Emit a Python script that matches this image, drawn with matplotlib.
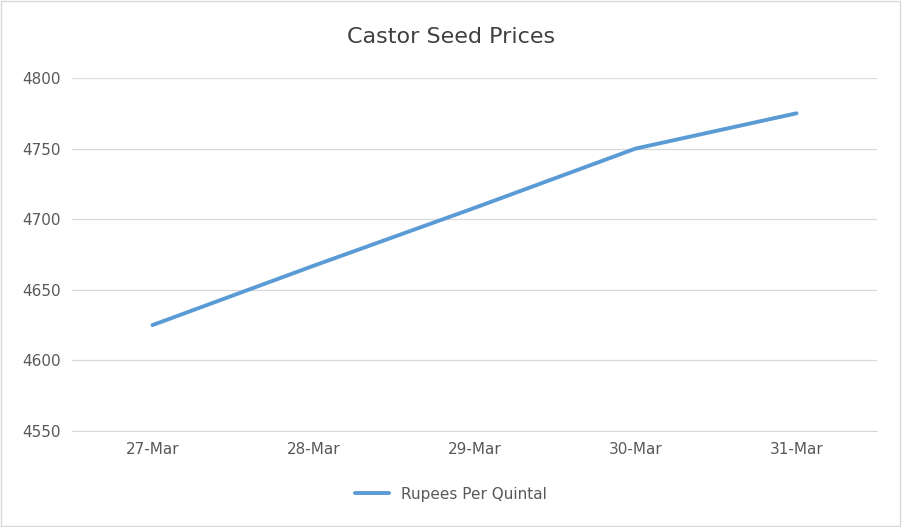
import matplotlib.pyplot as plt

dates = ["27-Mar", "28-Mar", "29-Mar", "30-Mar", "31-Mar"]
prices = [4625, 4667, 4708, 4750, 4775]
y_ticks = [4550, 4600, 4650, 4700, 4750, 4800]

fig = plt.figure(figsize=(9.02, 5.27), dpi=100)
ax = fig.add_axes([72 / 902, 1 - 431 / 527, (877 - 72) / 902, (431 - 78) / 527])

ax.plot(range(len(dates)), prices, color="#5b9bd5", linewidth=2.8,
        solid_capstyle="round", label="Rupees Per Quintal")

ax.set_xlim(-0.5, len(dates) - 0.5)
ax.set_ylim(4550, 4800)
ax.set_xticks(range(len(dates)))
ax.set_xticklabels(dates)
ax.set_yticks(y_ticks)
ax.grid(axis="y", color="#d9d9d9", linewidth=0.9)
ax.set_axisbelow(True)
for s in ax.spines.values():
    s.set_visible(False)
ax.spines["bottom"].set_visible(True)
ax.spines["bottom"].set_color("#d9d9d9")
ax.tick_params(length=0, colors="#595959", labelsize=11, pad=8)

fig.text(0.5, 1 - 37 / 527, "Castor Seed Prices", ha="center", va="center",
         fontsize=16, color="#404040")
fig.legend(loc="center", bbox_to_anchor=(0.5, 1 - 494 / 527), frameon=False,
           fontsize=11, labelcolor="#595959", handlelength=2.2)

fig.patches.append(plt.Rectangle((0.001, 0.001), 0.997, 0.997, transform=fig.transFigure,
                                 fill=False, edgecolor="#d9d9d9", linewidth=1))
fig.savefig("out.png", dpi=100)
